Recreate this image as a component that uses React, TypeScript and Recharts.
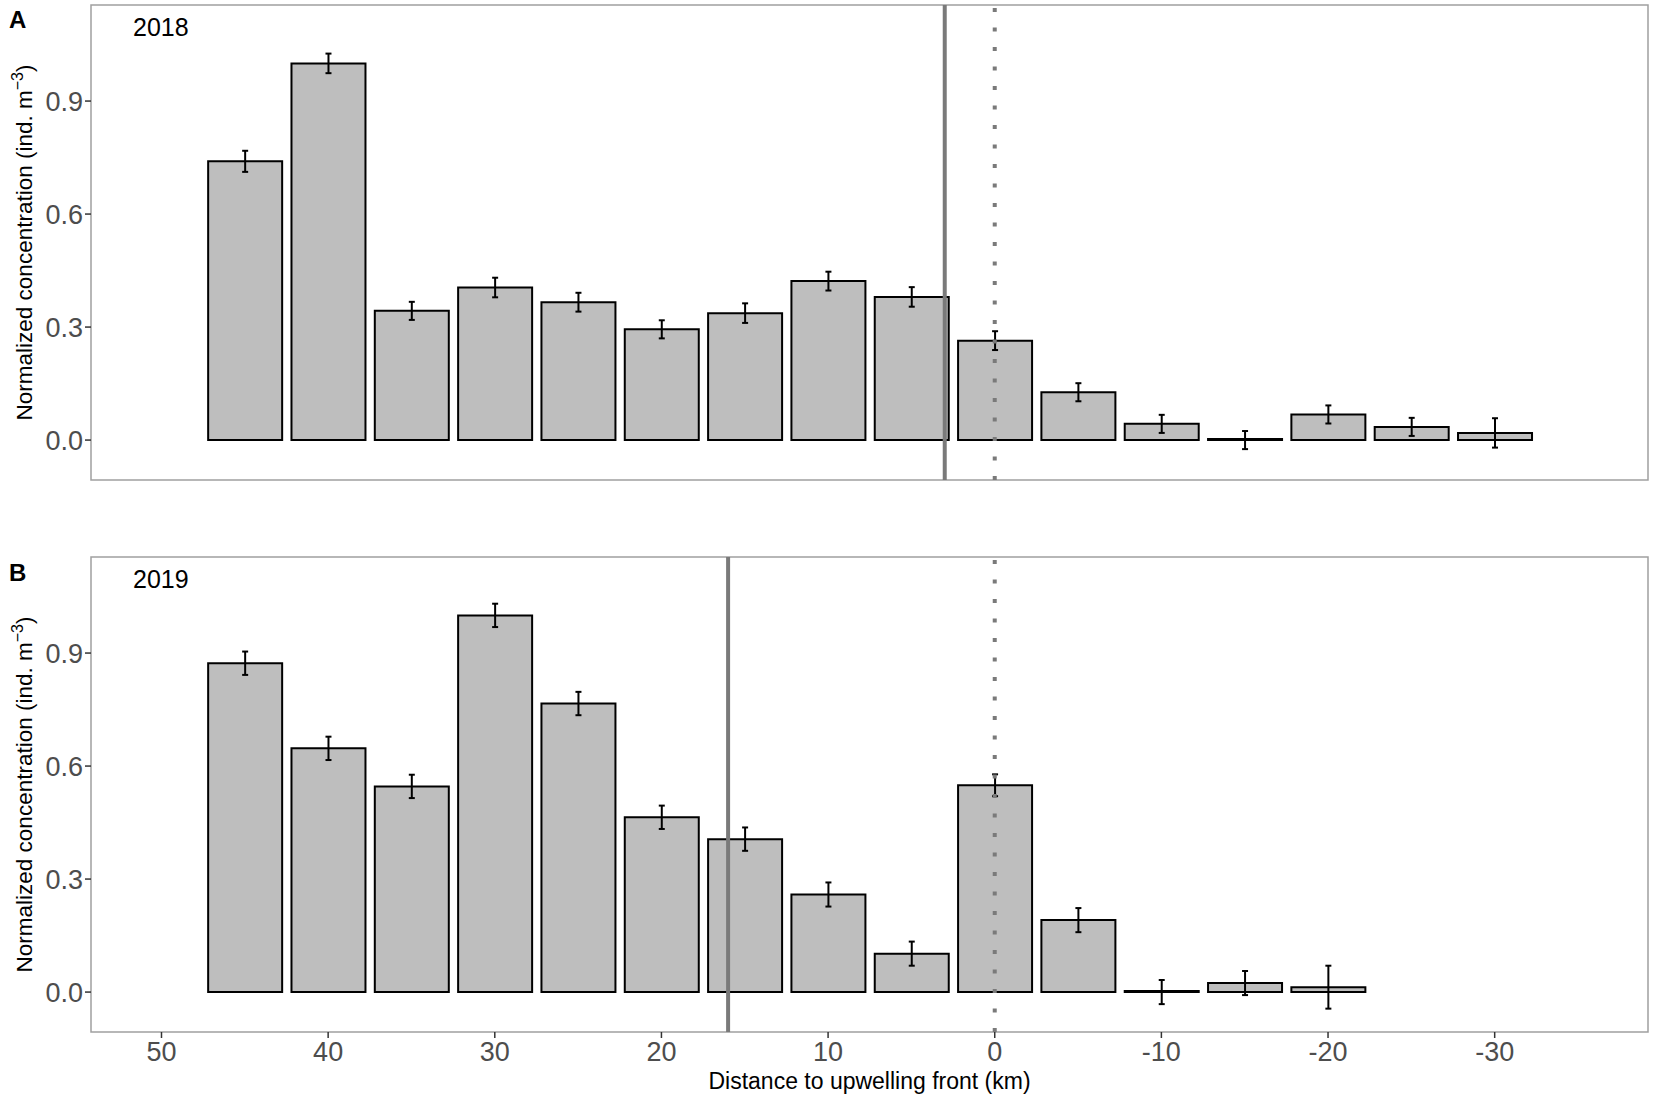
import React from 'react'
import {
  BarChart,
  Bar,
  XAxis,
  YAxis,
  ErrorBar,
  ReferenceLine,
  ReferenceArea,
  Label,
} from 'recharts'

// distance to the front (km), bar centres
const DISTANCES_2018 = [45, 40, 35, 30, 25, 20, 15, 10, 5, 0, -5, -10, -15, -20, -25, -30]
const CONC_2018 = [0.74, 1.0, 0.343, 0.405, 0.366, 0.294, 0.337, 0.422, 0.38, 0.264, 0.127, 0.043, 0, 0.068, 0.035, 0.019]
const SE_2018 = [0.028, 0.026, 0.024, 0.026, 0.025, 0.024, 0.026, 0.025, 0.026, 0.025, 0.024, 0.024, 0.024, 0.024, 0.024, 0.039]

const DISTANCES_2019 = [45, 40, 35, 30, 25, 20, 15, 10, 5, 0, -5, -10, -15, -20]
const CONC_2019 = [0.873, 0.647, 0.546, 1.0, 0.766, 0.464, 0.406, 0.259, 0.102, 0.549, 0.191, 0, 0.024, 0.013]
const SE_2019 = [0.031, 0.031, 0.031, 0.031, 0.031, 0.031, 0.031, 0.032, 0.032, 0.029, 0.032, 0.032, 0.032, 0.057]

// position of the front that year (solid line)
const FRONT_2018 = 3
const FRONT_2019 = 16

const X_TICKS = [50, 40, 30, 20, 10, 0, -10, -20, -30]
const Y_TICKS = [0, 0.3, 0.6, 0.9]

// axis limits (ggplot-style expansion)
const X_MIN = -39.2
const X_MAX = 54.23
const Y_MIN = -0.106
const Y_MAX = 1.155

const FONT = '"Liberation Sans", Arial, sans-serif'
const BORDER = '#a0a0a0'
const LINE_GREY = '#7a7a7a'

const toRows = (xs: number[], ys: number[], es: number[]) =>
  xs.map((d, i) => ({ dist: d, conc: ys[i], se: es[i] }))

const YTitle = (props: any) => {
  const vb = props.viewBox || { x: 0, y: 0, width: 91, height: 475 }
  const cx = 32
  const cy = vb.y + vb.height / 2
  return (
    <text
      x={cx}
      y={cy}
      textAnchor="middle"
      transform={`rotate(-90, ${cx}, ${cy})`}
      fontFamily={FONT}
      fontSize={22.5}
      fill="#000"
    >
      Normalized concentration (ind. m
      <tspan dy={-9} fontSize={16}>−3</tspan>
      <tspan dy={9}>)</tspan>
    </text>
  )
}

const XTitle = (props: any) => {
  const vb = props.viewBox || { x: 91, y: 512, width: 1557, height: 67 }
  return (
    <text
      x={vb.x + vb.width / 2}
      y={vb.y + 57}
      textAnchor="middle"
      fontFamily={FONT}
      fontSize={23}
      fill="#000"
    >
      Distance to upwelling front (km)
    </text>
  )
}

interface PanelProps {
  rows: { dist: number; conc: number; se: number }[]
  front: number
  height: number
  top: number
  xHeight: number
  showXLabels: boolean
}

function Panel({ rows, front, height, top, xHeight, showXLabels }: PanelProps) {
  return (
    <BarChart
      width={1654}
      height={height}
      data={rows}
      margin={{ top, right: 6, bottom: 0, left: 0 }}
    >
      <XAxis
        dataKey="dist"
        type="number"
        domain={[X_MIN, X_MAX]}
        reversed
        allowDataOverflow
        ticks={X_TICKS}
        interval={0}
        height={xHeight}
        axisLine={false}
        tickLine={{ stroke: '#333', strokeWidth: 1.5 }}
        tickSize={6}
        tickMargin={4}
        tick={showXLabels ? { fill: '#4d4d4d', fontSize: 27, fontFamily: FONT } : false}
      >
        {showXLabels && <Label content={<XTitle />} />}
      </XAxis>
      <YAxis
        type="number"
        domain={[Y_MIN, Y_MAX]}
        allowDataOverflow
        ticks={Y_TICKS}
        interval={0}
        width={91}
        axisLine={false}
        tickLine={{ stroke: '#333', strokeWidth: 1.5 }}
        tickSize={6}
        tickMargin={2}
        tickFormatter={(v: number) => v.toFixed(1)}
        tick={{ fill: '#4d4d4d', fontSize: 27, fontFamily: FONT }}
      >
        <Label content={<YTitle />} />
      </YAxis>
      <Bar
        dataKey="conc"
        fill="#bebebe"
        stroke="#000"
        strokeWidth={2}
        barSize={74}
        minPointSize={1}
        isAnimationActive={false}
      >
        <ErrorBar dataKey="se" width={3} stroke="#000" strokeWidth={2} />
      </Bar>
      <ReferenceLine x={front} stroke={LINE_GREY} strokeWidth={4} />
      <ReferenceLine x={0} stroke={LINE_GREY} strokeWidth={4} strokeDasharray="4 15.5" />
      <ReferenceArea
        x1={X_MIN}
        x2={X_MAX}
        y1={Y_MIN}
        y2={Y_MAX}
        fill="none"
        stroke={BORDER}
        strokeWidth={1.5}
        fillOpacity={0}
      />
    </BarChart>
  )
}

export default function App() {
  const rows2018 = toRows(DISTANCES_2018, CONC_2018, SE_2018)
  const rows2019 = toRows(DISTANCES_2019, CONC_2019, SE_2019)

  return (
    <div
      style={{
        position: 'absolute',
        left: 0,
        top: 0,
        width: 1654,
        height: 1099,
        background: '#fff',
        fontFamily: FONT,
      }}
    >
      <div style={{ position: 'absolute', left: 0, top: 0 }}>
        <Panel rows={rows2018} front={FRONT_2018} height={520} top={5} xHeight={40} showXLabels={false} />
      </div>
      <div style={{ position: 'absolute', left: 0, top: 520 }}>
        <Panel rows={rows2019} front={FRONT_2019} height={579} top={37} xHeight={67} showXLabels />
      </div>
      <svg
        width={1654}
        height={1099}
        style={{ position: 'absolute', left: 0, top: 0, pointerEvents: 'none' }}
      >
        <text x={9} y={28} fontFamily={FONT} fontSize={24} fontWeight="bold" fill="#000">A</text>
        <text x={133} y={36} fontFamily={FONT} fontSize={25} fill="#000">2018</text>
        <text x={9} y={581} fontFamily={FONT} fontSize={24} fontWeight="bold" fill="#000">B</text>
        <text x={133} y={588} fontFamily={FONT} fontSize={25} fill="#000">2019</text>
      </svg>
    </div>
  )
}
